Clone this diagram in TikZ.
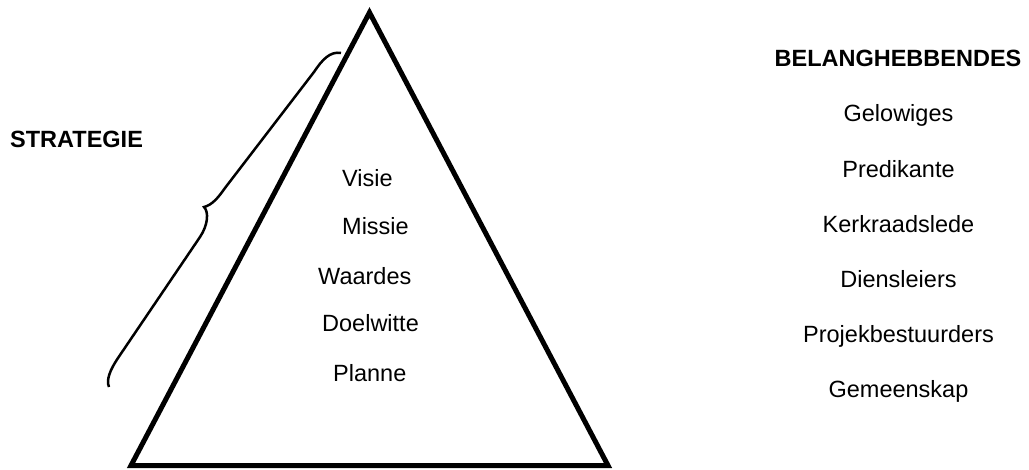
\documentclass[tikz,border=0pt]{standalone}
\usepackage{fontspec}
\setmainfont{Liberation Sans}
\usepackage{tikz}
\usetikzlibrary{calc}

\tikzset{
	lbl/.style={font=\fontsize{23.5}{28}\selectfont, inner sep=0pt},
	head/.style={font=\fontsize{23.5}{28}\selectfont\bfseries, inner sep=0pt}
}

\begin{document}
\begin{tikzpicture}[x=1pt, y=-1pt]
		\useasboundingbox (0,0) rectangle (1029,470);
		\coordinate (T) at (369.5,12.5);
		\coordinate (L) at (131,465.5);
		\coordinate (R) at (608,465.5);
		\draw[line width=5pt] (T)--(L)--(R)--cycle;
		% brace
		\draw[line width=2.5pt]
			(341,53) .. controls (330,51) and (322,60) .. (314,72) -- (225,188)
			.. controls (218,198) and (212,205) .. (204,207)
			.. controls (209,212) and (208,225) .. (200,237) -- (118,358)
			.. controls (110,370) and (106,380) .. (109,387);
		\node[head, anchor=base west] (strat) at (10,148) {STRATEGIE};
		\foreach \t/\x/\y [count=\i] in {Visie/342/187, Missie/342/235, Waardes/318/285, Doelwitte/322/332, Planne/333/382}
		\node[lbl, anchor=base west] (p\i) at (\x,\y) {\t};
		\node[head, anchor=base] (bel) at (898,67) {BELANGHEBBENDES};
		\foreach \t [count=\i] in {Gelowiges, Predikante, Kerkraadslede, Diensleiers, Projekbestuurders, Gemeenskap}
		\node[lbl, anchor=base] (s\i) at (898.5,{122+55.2*(\i-1)}) {\t};
	\end{tikzpicture}
\end{document}
